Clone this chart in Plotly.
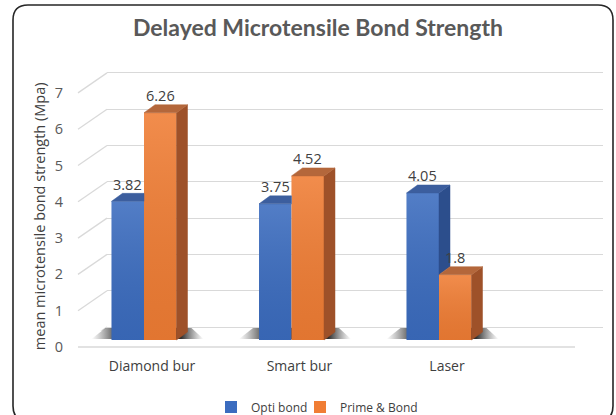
import plotly.graph_objects as go

# ---------------- data ----------------
categories = ["Diamond bur", "Smart bur", "Laser"]
opti_bond = [3.82, 3.75, 4.05]
prime_bond = [6.26, 4.52, 1.8]
series_names = ["Opti bond", "Prime & Bond"]
y_ticks = [0, 1, 2, 3, 4, 5, 6, 7]
title_text = "Delayed Microtensile Bond Strength"
y_title = "mean microtensile bond strength (Mpa)"

# ---------------- geometry / style ----------------
W_PX, H_PX = 616, 415
U = 36.3          # px per value unit
P = 147.5         # px per category unit
Y_RANGE = [-0.1, 7.3]

def px_x(p):
    return p / W_PX

def ydom(zero_px):
    bottom = zero_px - Y_RANGE[0] * U
    top = zero_px - Y_RANGE[1] * U
    return [1 - bottom / H_PX, 1 - top / H_PX]

BACK_ZERO, FRONT_ZERO, BAR_ZERO = 327, 347, 340
FRONT_L, FRONT_R = 78, 575
BACK_L, BACK_R = 107, 603
FIRST_CENTER = 144
x_rng = [-(FIRST_CENTER - FRONT_L) / P, (FRONT_R - FIRST_CENTER) / P]
BW = 32.5 / P
DX = 11 / P
DY = 8 / U

GRID = "#D9D9D9"
TXT = "#404040"
BLUE = "#3B6CBF"
BLUE_TOP = "#3C5E9E"
BLUE_SIDE = "#2C4E8C"
ORANGE = "#F07D34"
ORANGE_TOP = "#B4673B"
ORANGE_SIDE = "#9E5129"

fig = go.Figure()
idx = list(range(len(categories)))

# shadows (subplot x3/y3, same geometry as bars, drawn below)
for i in idx:
    xl = i - BW
    xr = i + BW + DX
    sx = [xl - 20 / P, xr + 16 / P, xr + 4 / P, xl - 6 / P, xl - 20 / P]
    sy = [1 / U, 1 / U, 12 / U, 12 / U, 1 / U]
    fig.add_trace(go.Scatter(
        x=sx, y=sy, xaxis="x3", yaxis="y3", mode="lines", fill="toself",
        line=dict(width=0, color="rgba(0,0,0,0)"),
        fillgradient=dict(type="horizontal", colorscale=[
            [0, "rgba(90,90,90,0)"], [0.25, "rgba(35,35,35,0.95)"],
            [0.8, "rgba(35,35,35,0.95)"], [1, "rgba(90,90,90,0)"]]),
        showlegend=False, hoverinfo="skip"))

# front faces (bars)
fig.add_trace(go.Bar(x=idx, y=opti_bond, name=series_names[0], xaxis="x4", yaxis="y4",
                     width=BW, offset=-BW, legend="legend",
                     marker=dict(color=BLUE, line=dict(width=0))))
fig.add_trace(go.Bar(x=idx, y=prime_bond, name=series_names[1], xaxis="x4", yaxis="y4",
                     width=BW, offset=0, legend="legend2",
                     marker=dict(color=ORANGE, line=dict(width=0))))

def face(xs, ys, color):
    fig.add_trace(go.Scatter(x=xs, y=ys, xaxis="x4", yaxis="y4", mode="lines",
                             fill="toself", fillcolor=color,
                             line=dict(width=0.5, color=color),
                             showlegend=False, hoverinfo="skip"))

def shade(xl, xr, v):
    # subtle vertical gradient over a bar's front face (lighter at top)
    fig.add_trace(go.Scatter(x=[xl, xr, xr, xl, xl], y=[0, 0, v, v, 0], xaxis="x4", yaxis="y4",
                             mode="lines", fill="toself", line=dict(width=0, color="rgba(0,0,0,0)"),
                             fillgradient=dict(type="vertical", colorscale=[
                                 [0, "rgba(0,0,0,0.06)"], [1, "rgba(255,255,255,0.12)"]]),
                             showlegend=False, hoverinfo="skip"))

for i in idx:
    vb, vo = opti_bond[i], prime_bond[i]
    # blue bar: left = i-BW, right = i
    xl, xr = i - BW, i
    shade(xl, xr, vb)
    if vb > vo:
        lo = vo
        face([xr, xr + DX, xr + DX, xr, xr], [lo, lo + DY, vb + DY, vb, lo], BLUE_SIDE)
        face([xl, xr, xr + DX, xl + DX, xl], [vb, vb, vb + DY, vb + DY, vb], BLUE_TOP)
    else:
        face([xl, xr, xr, xl + DX, xl], [vb, vb, vb + DY, vb + DY, vb], BLUE_TOP)
    # orange bar: left = i, right = i+BW
    xl, xr = i, i + BW
    shade(xl, xr, vo)
    face([xr, xr + DX, xr + DX, xr, xr], [0, DY, vo + DY, vo, 0], ORANGE_SIDE)
    face([xl, xr, xr + DX, xl + DX, xl], [vo, vo, vo + DY, vo + DY, vo], ORANGE_TOP)

# value labels
annotations = []
for i in idx:
    for vals, off in ((opti_bond, -BW / 2), (prime_bond, BW / 2)):
        annotations.append(dict(x=i + off, y=vals[i], xref="x4", yref="y4",
                                text=f"{vals[i]:g}", showarrow=False, yshift=17,
                                font=dict(family="Open Sans", size=14.5, color=TXT)))

# shapes: left wall slanted lines, floor front edge, border
shapes = []
for t in y_ticks:
    shapes.append(dict(type="line", xref="paper", yref="y", ysizemode="pixel",
                       yanchor=t, x0=px_x(FRONT_L), x1=px_x(BACK_L), y0=-(FRONT_ZERO - BACK_ZERO), y1=0,
                       line=dict(color=GRID, width=1.3), layer="below"))
shapes.append(dict(type="line", xref="paper", yref="y2", x0=px_x(FRONT_L), x1=px_x(FRONT_R),
                   y0=0, y1=0, line=dict(color=GRID, width=1.3), layer="below"))

bx0, bx1, by0, by1, r = 13, 613, 5, 421, 15
def P_(x, y):
    return f"{x / W_PX:.5f},{1 - y / H_PX:.5f}"
path = (f"M {P_(bx0 + r, by0)} L {P_(bx1 - r, by0)} Q {P_(bx1, by0)} {P_(bx1, by0 + r)} "
        f"L {P_(bx1, by1 - r)} Q {P_(bx1, by1)} {P_(bx1 - r, by1)} "
        f"L {P_(bx0 + r, by1)} Q {P_(bx0, by1)} {P_(bx0, by1 - r)} "
        f"L {P_(bx0, by0 + r)} Q {P_(bx0, by0)} {P_(bx0 + r, by0)} Z")
shapes.append(dict(type="path", xref="paper", yref="paper", path=path,
                   line=dict(color="#262626", width=1.6)))

legend_style = dict(orientation="h", xanchor="left", y=1 - 407 / H_PX, yanchor="middle",
                    font=dict(family="Open Sans", size=12, color=TXT), bgcolor="rgba(0,0,0,0)",
                    itemwidth=30, tracegroupgap=0)

hidden_x = dict(visible=False, fixedrange=True)
fig.update_layout(
    width=W_PX, height=H_PX,
    margin=dict(l=0, r=0, t=0, b=0, autoexpand=False),
    paper_bgcolor="white", plot_bgcolor="rgba(0,0,0,0)",
    font=dict(family="Open Sans", color=TXT),
    title=dict(text=f"<b>{title_text}</b>", x=318 / W_PX, y=1 - 28 / H_PX,
               xanchor="center", yanchor="middle",
               font=dict(family="Lato, sans-serif", size=23, color="#595959")),
    barmode="overlay",
    showlegend=True,
    legend=dict(x=211 / W_PX, **legend_style),
    legend2=dict(x=300 / W_PX, **legend_style),
    # back wall
    xaxis=dict(domain=[px_x(BACK_L), px_x(BACK_R)], range=[0, 1], anchor="y", **hidden_x),
    yaxis=dict(domain=ydom(BACK_ZERO), range=Y_RANGE, anchor="x", tickvals=y_ticks,
               showticklabels=False, showgrid=True, gridcolor=GRID, gridwidth=1.3,
               zeroline=False, showline=False, ticks="", automargin=False),
    # front plane (tick labels and title)
    xaxis2=dict(domain=[px_x(FRONT_L), px_x(FRONT_R)], range=[0, 1], anchor="y2", **hidden_x),
    yaxis2=dict(domain=ydom(FRONT_ZERO), range=Y_RANGE, anchor="x2", tickvals=y_ticks,
                showticklabels=True, showgrid=False, zeroline=False, showline=False, ticks="",
                ticklabelstandoff=14, automargin=False,
                tickfont=dict(family="Open Sans", size=14.5, color="#595959"),
                title=dict(text=y_title, standoff=5,
                           font=dict(family="Open Sans", size=14.5, color=TXT))),
    # shadows
    xaxis3=dict(domain=[px_x(FRONT_L), px_x(FRONT_R)], range=x_rng, anchor="y3", **hidden_x),
    yaxis3=dict(domain=ydom(BAR_ZERO), range=Y_RANGE, anchor="x3", visible=False),
    # bars
    xaxis4=dict(domain=[px_x(FRONT_L), px_x(FRONT_R)], range=x_rng, anchor="y4",
                tickvals=idx, ticktext=categories, ticks="", showline=False, showgrid=False,
                zeroline=False, ticklabelshift=8, ticklabelstandoff=12, automargin=False,
                tickfont=dict(family="Open Sans", size=14, color=TXT)),
    yaxis4=dict(domain=ydom(BAR_ZERO), range=Y_RANGE, anchor="x4", visible=False),
    annotations=annotations,
    shapes=shapes,
)

fig.write_html("out.html")
